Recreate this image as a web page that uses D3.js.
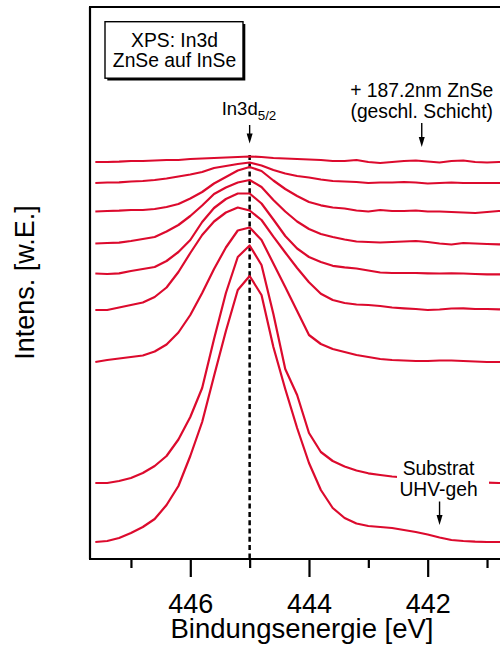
<!DOCTYPE html>
<html><head><meta charset="utf-8">
<script src="https://cdn.jsdelivr.net/npm/d3@7"></script>
<style>
body{margin:0;background:#fff}
svg{display:block}
text{font-family:"Liberation Sans",Arial,Helvetica,sans-serif;fill:#000;font-weight:400}
</style>
</head><body>
<svg id="chart" width="500" height="648"></svg>
<script>
// Binding energy grid (eV)
const energies = [447.6,447.4,447.2,447.0,446.8,446.6,446.4,446.2,446.0,445.8,445.6,445.4,445.2,445.0,444.8,444.6,444.4,444.2,444.0,443.8,443.6,443.4,443.2,443.0,442.8,442.6,442.4,442.2,442.0,441.8,441.6,441.4,441.2,441.0,440.8,440.6];

// Stacked In3d5/2 spectra (arb. units), from clean substrate (bottom) to 187.2 nm ZnSe (top)
const specSubstrat = [17,18,21,26,32,40,54,73,103,137,183,228,269,283,264,212,170,131,96,69,51,41,35.5,33,32,31,29,27,24.5,21.5,19,18,17.3,17,17,17];
const spec2 = [76,76,78,81,86,93,103,119.5,142,171,220,266,302,313.5,294,245,190,164,126,107,98,92.5,88.5,85.7,84,82.5,81.5,80.5,79.5,78.5,78,77,76.5,76.3,76,76];
const spec3 = [197,199,200.5,202,203.5,207.5,214.5,226.5,244,266,290,311.5,328.5,331.5,319,295.5,272,248,224,215,210,207,204,202,200,199,198.5,198,198,198.5,198.5,198,197.5,197,197,197];
const spec4 = [249,249,251.5,254,256.5,262,271.5,287,306,324,337.5,346.5,351.5,348.5,339,322.3,306.5,291,276.7,265.3,259,256,254.5,254,253,251.5,250.7,250,249,249.5,250.5,250.7,250,250,249.7,249.7];
const spec5 = [285.5,285,285.7,288,290,292,298,307,319,337,351,360,365.5,365.5,355.5,339.5,323,310.5,302,297,293.2,291.7,290.5,288.5,286.5,286,286,286,285.7,285.5,285.7,285.5,285,284.7,284.7,284.7];
const spec6 = [315.5,316,316.3,318,320,322,327.5,334,343,353.5,365,371.5,376.5,379,372,359,347.5,337.5,330,325,322,319.5,317.5,317,316.5,317,317.5,318,317,315.5,314.5,316,315.5,315,314.7,314.7];
const spec7 = [347.5,348,348.3,349,349,350,352,355,360.5,367,375.5,382,388.5,392,388,378.5,370,363,357,353.7,351.5,350.5,348.5,347.5,349,348,348,348.5,347.5,347.5,347,346.5,346,347,348,348];
const spec8 = [376,376.5,376.7,377.5,378,379,380.5,382.5,384.5,387,391,393,395,396.5,393.5,389,385.5,383,381.5,379.5,378,377.5,377,376,376.5,376.5,377,376.5,375.5,376,376.5,376,376,376,376,376];
const specZnSe = [397,397,397.3,398,398,398.5,399,399,400,400.5,401,401.5,402,402.5,402,401,400.5,400,399.5,399,398,398,399,397,396,397,398,398.5,397.5,396.5,398,398.5,397,396.5,397,397];

const allSpectra = [specSubstrat, spec2, spec3, spec4, spec5, spec6, spec7, spec8, specZnSe];

// Axis ticks
const majorTicks = [446, 444, 442];
const minorTicks = [447, 445, 443, 441];
const peakEnergy = 445.0;

// Texts
const xTitle = "Bindungsenergie [eV]";
const yTitle = "Intens. [w.E.]";
const boxLines = ["XPS: In3d", "ZnSe auf InSe"];
const topLabel = ["+ 187.2nm ZnSe", "(geschl. Schicht)"];
const topLabelEnergy = 442.1;
const bottomLabel = ["Substrat", "UHV-geh"];
const bottomLabelEnergy = 441.8;

const svg = d3.select("#chart");
const x = d3.scaleLinear().domain([447.69, 440.5]).range([90, 516.7]);
const y = d3.scaleLinear().domain([0, 552]).range([559, 7]);
const red = "#dc0a2d";

// Frame (axes lines)
const frame = svg.append("g").attr("stroke", "#000").attr("stroke-width", 2.2).attr("fill", "none");
frame.append("line").attr("x1", x.range()[0]).attr("x2", x.range()[0]).attr("y1", y.range()[1]).attr("y2", y.range()[0]);
frame.append("line").attr("x1", x.range()[0] - 1).attr("x2", 520).attr("y1", y.range()[1]).attr("y2", y.range()[1]);
frame.append("line").attr("x1", x.range()[0] - 1).attr("x2", 520).attr("y1", y.range()[0]).attr("y2", y.range()[0]);

// Minor ticks
svg.append("g").attr("transform", `translate(0,${y(0)})`)
  .call(d3.axisBottom(x).tickValues(minorTicks).tickSize(9).tickFormat(""))
  .call(g => { g.select(".domain").remove(); g.selectAll("line").attr("stroke-width", 2.2); });

// Major ticks
svg.append("g").attr("transform", `translate(0,${y(0)})`)
  .call(d3.axisBottom(x).tickValues(majorTicks).tickSize(18).tickFormat(d3.format("d")))
  .call(g => {
    g.attr("font-family", null).attr("font-size", null);
    g.select(".domain").remove();
    g.selectAll("line").attr("stroke-width", 2.2);
    g.selectAll("text").attr("y", 54).attr("dy", 0)
      .attr("font-size", 27).attr("font-weight", 400).attr("fill", "#000");
  });

// Dashed peak line
svg.append("line")
  .attr("x1", x(peakEnergy)).attr("x2", x(peakEnergy))
  .attr("y1", 155).attr("y2", y(0))
  .attr("stroke", "#000").attr("stroke-width", 2.5).attr("stroke-dasharray", "5,3.3");

// Spectra
const line = d3.line().x((d, i) => x(energies[i])).y(d => y(d));
svg.append("g").selectAll("path").data(allSpectra).join("path")
  .attr("d", line).attr("fill", "none").attr("stroke", red)
  .attr("stroke-width", 2.2).attr("stroke-linejoin", "round");

// Axis titles
svg.append("text").attr("x", 302).attr("y", 638).attr("text-anchor", "middle")
  .attr("font-size", 27.5).text(xTitle);
svg.append("text").attr("transform", "translate(33.5,282.5) rotate(-90)")
  .attr("text-anchor", "middle").attr("font-size", 27).text(yTitle);

// Label box with shadow
svg.append("rect").attr("x", 107.3).attr("y", 24).attr("width", 138).attr("height", 56.5).attr("fill", "#000");
svg.append("rect").attr("x", 105).attr("y", 21.7).attr("width", 138).attr("height", 56.5)
  .attr("fill", "#fff").attr("stroke", "#000").attr("stroke-width", 1.4);
svg.append("g").selectAll("text").data(boxLines).join("text")
  .attr("x", 174.5).attr("y", (d, i) => 46.7 + i * 20).attr("text-anchor", "middle")
  .attr("font-size", 19.3).text(d => d);

function arrow(xp, y1, y2) {
  svg.append("line").attr("x1", xp).attr("x2", xp).attr("y1", y1).attr("y2", y2 - 8)
    .attr("stroke", "#000").attr("stroke-width", 1.4);
  svg.append("path").attr("d", `M${xp - 3},${y2 - 10} L${xp + 3},${y2 - 10} L${xp},${y2} Z`).attr("fill", "#000");
}

// In3d5/2 label
const lbl = svg.append("text").attr("x", 221.7).attr("y", 115).attr("font-size", 18.5);
lbl.append("tspan").text("In3d");
lbl.append("tspan").attr("font-size", 13.4).attr("dy", 5).text("5/2");
arrow(x(peakEnergy), 125, 143.5);

// Top label
svg.append("g").selectAll("text").data(topLabel).join("text")
  .attr("x", x(topLabelEnergy)).attr("y", (d, i) => 97.3 + i * 20.5).attr("text-anchor", "middle")
  .attr("font-size", 19.3).text(d => d);
arrow(x(topLabelEnergy), 123, 147);

// Bottom label with white background
svg.append("rect").attr("x", 397).attr("y", 456).attr("width", 92).attr("height", 44).attr("fill", "#fff");
svg.append("g").selectAll("text").data(bottomLabel).join("text")
  .attr("x", x(bottomLabelEnergy) - 1).attr("y", (d, i) => 475 + i * 20.7).attr("text-anchor", "middle")
  .attr("font-size", 19.3).text(d => d);
arrow(x(bottomLabelEnergy), 501.5, 525);
</script>
</body></html>
